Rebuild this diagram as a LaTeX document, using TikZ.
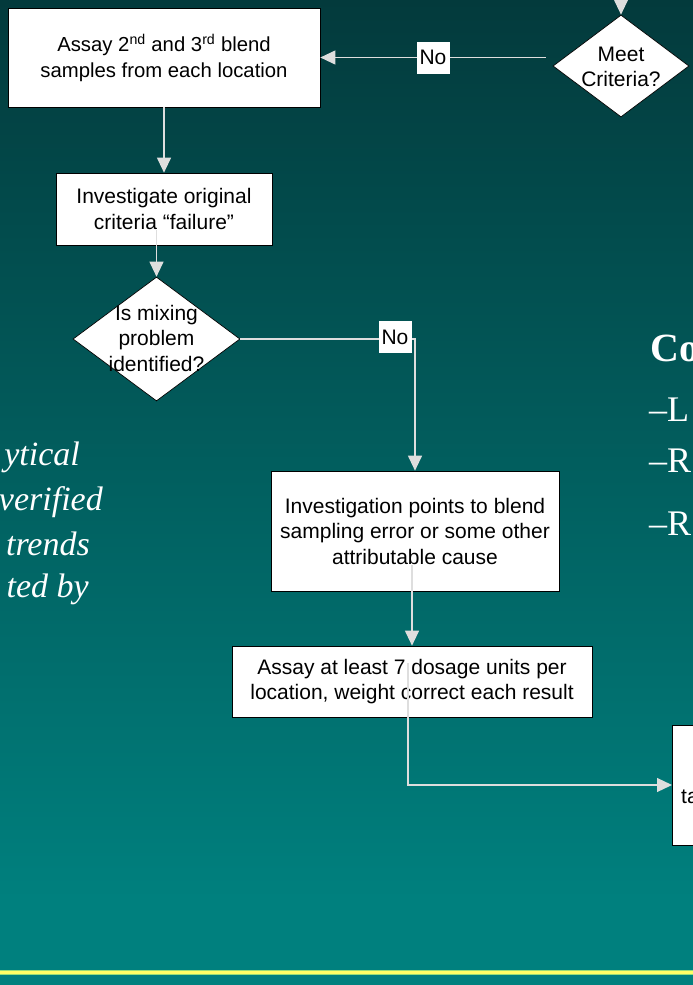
\documentclass[tikz,border=0pt]{standalone}
\usepackage{fontspec}
\setmainfont{Liberation Sans}
\newfontfamily\lsrf{Liberation Serif}
\usetikzlibrary{arrows.meta,shapes.geometric,calc}
\definecolor{bgtop}{RGB}{3,58,60}
\definecolor{bgbot}{RGB}{0,128,126}
\definecolor{lineg}{RGB}{222,222,222}
\definecolor{yline}{RGB}{255,255,102}
\definecolor{ygreen}{RGB}{150,220,120}
\newcommand\bxfont{\fontsize{21}{25.5}\selectfont}
\newcommand\bxfonta{\fontsize{20.3}{25.5}\selectfont}
\newcommand\itfnt{\lsrf\itshape\fontsize{34}{40}\selectfont}
\newcommand\rfnt{\lsrf\fontsize{36}{40}\selectfont}
\newcommand\rbfnt{\lsrf\bfseries\fontsize{40}{44}\selectfont}
\begin{document}
\begin{tikzpicture}[x=1pt,y=-1pt,
  box/.style={draw=black,line width=0.7pt,fill=white,inner sep=0pt,align=center,font=\bxfont},
  diam/.style={diamond,draw=black,line width=0.7pt,fill=white,inner sep=0pt},
  dtext/.style={align=center,font=\bxfont,inner sep=0pt},
  lab/.style={fill=white,inner sep=0pt,minimum width=33pt,minimum height=32pt,font=\bxfont},
  conn/.style={draw=lineg,line width=1.2pt},
  arr/.style={conn,-{Triangle[length=15pt,width=14pt]}},
  ital/.style={text=white,font=\itfnt,anchor=base east,inner sep=0pt},
  rser/.style={text=white,font=\rfnt,anchor=base west,inner sep=0pt}]
\useasboundingbox (0,0) rectangle (693,985);
\clip (0,0) rectangle (693,985);
% background
\fill[top color=bgtop,bottom color=bgbot] (0,0) rectangle (693,900);
\fill[bgbot] (0,899) rectangle (693,985);
\fill[ygreen] (0,969.5) rectangle (693,975);
\fill[yline] (0,971) rectangle (693,973.5);

% side texts
\node[ital] (l1) at (80,465) {ytical};
\node[ital] (l2) at (103,510) {verified};
\node[ital] (l3) at (90,555) {trends};
\node[ital] (l4) at (89,597) {ted by};
\node[rser,font=\rbfnt] (r0) at (650,361) {Co};
\node[rser] (r1) at (649,421) {–L};
\node[rser] (r2) at (649,472) {–R};
\node[rser] (r3) at (649,535) {–R};

% nodes
\node[box,font=\bxfonta,minimum width=312pt,minimum height=99pt] (b1) at (164,57.5) {Assay 2\textsuperscript{nd} and 3\textsuperscript{rd} blend\\samples from each location};
\node[diam,minimum width=136pt,minimum height=102pt] (d1) at (621,66) {};
\node[dtext] (d1t) at (621,67) {Meet\\Criteria?};
\node[box,minimum width=216pt,minimum height=72pt] (b2) at (164,209) {Investigate original\\criteria “failure”};
\node[diam,minimum width=167pt,minimum height=124pt] (d2) at (156.5,339) {};
\node[dtext] (d2t) at (156.5,338) {Is mixing\\problem\\identified?};
\node[box,minimum width=288pt,minimum height=120pt] (b3) at (415,531) {Investigation points to blend\\sampling error or some other\\attributable cause};
\node[box,minimum width=360pt,minimum height=71pt] (b4) at (412,681.5) {Assay at least 7 dosage units per\\location, weight correct each result};
\node[box,minimum width=150pt,minimum height=120pt,anchor=west] (b5) at (672,785) {};
\node[anchor=base west,font=\bxfont,inner sep=0pt] (b5t) at (681,803) {ta};

% connectors
\coordinate (topin) at (621,-40);
\draw[arr] (topin) -- (d1.north);
\path (b1.east -| d1.west) ++(-7,0) coordinate (n1s);
\draw[arr] (n1s) -- (b1.east);
\node[lab] (no1) at (433,57.5) {No};
\draw[arr] (b1.south) -- (b2.north);
\draw[arr] ($(b2.south -| d2.north)+(0,-15)$) -- (d2.north);
\draw[arr] (d2.east) -| (b3.north);
\node[lab] (no2) at (395,337) {No};
\draw[arr] ($(b3.south -| b4.north)+(0,-26)$) -- (b4.north);
\draw[arr] ($(b4.south)+(-4,-54)$) |- (b5.west);
\end{tikzpicture}
\end{document}
